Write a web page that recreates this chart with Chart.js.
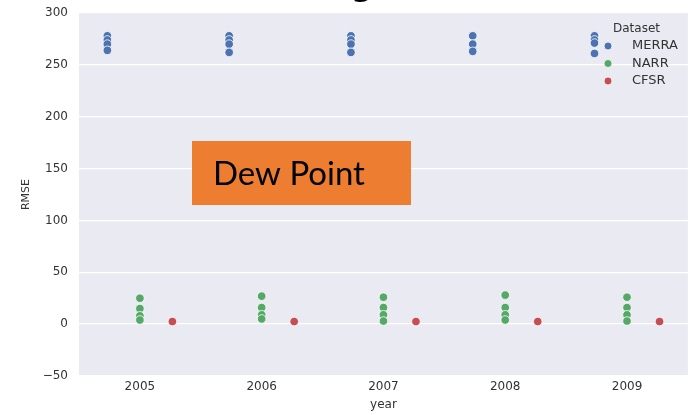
<!DOCTYPE html>
<html>
<head>
<meta charset="utf-8">
<script src="https://cdn.jsdelivr.net/npm/chart.js@4.4.1/dist/chart.umd.min.js"></script>
<style>
  html, body { margin: 0; padding: 0; background: #ffffff; }
  #wrap { width: 693px; height: 415px; }
</style>
</head>
<body>
<div id="wrap"><canvas id="c" width="693" height="415"></canvas></div>
<script>
// ---- data ----
const years = ['2005', '2006', '2007', '2008', '2009'];
const seriesNames = ['MERRA', 'NARR', 'CFSR'];
const merra = [[278, 274, 270, 264], [278, 274, 270, 262], [278, 274, 270, 262], [278, 270, 263], [278, 274, 271, 261]];
const narr  = [[25, 15, 8, 4], [27, 16, 9, 5], [26, 16, 9, 3], [28, 16, 9, 4], [26, 16, 9, 3]];
const cfsr  = [[2.5], [2.5], [2.5], [2.5], [2.5]];
const yTicks = [-50, 0, 50, 100, 150, 200, 250, 300];
const seriesColors = ['#4C72B0', '#55A868', '#C44E52'];
const dodge = [-0.267, 0, 0.267];

function toPoints(arr, k) {
  const pts = [];
  arr.forEach((vals, i) => vals.forEach(v => pts.push({ x: i + dodge[k], y: v })));
  return pts;
}

const datasets = [merra, narr, cfsr].map((arr, k) => ({
  label: seriesNames[k],
  data: toPoints(arr, k),
  backgroundColor: seriesColors[k],
  borderColor: '#ffffff',
  borderWidth: 0.8,
  pointRadius: 4.3,
  pointHoverRadius: 4.3
}));

const bgPlugin = {
  id: 'bg',
  beforeDraw(chart) {
    const { ctx, chartArea: a } = chart;
    ctx.save();
    ctx.fillStyle = '#ffffff';
    ctx.fillRect(0, 0, chart.width, chart.height);
    ctx.fillStyle = '#EAEAF2';
    ctx.fillRect(a.left, a.top, a.right - a.left, a.bottom - a.top);
    ctx.restore();
  }
};

const overlayPlugin = {
  id: 'overlay',
  afterDraw(chart) {
    const ctx = chart.ctx;
    ctx.save();
    // legend
    ctx.fillStyle = '#333333';
    ctx.font = '12px "DejaVu Sans"';
    ctx.textBaseline = 'middle';
    ctx.textAlign = 'left';
    ctx.fillText('Dataset', 613, 29);
    ctx.font = '13px "DejaVu Sans"';
    chart.data.datasets.forEach((ds, i) => {
      const y = 46 + i * 17.5;
      ctx.beginPath();
      ctx.arc(608, y, 4, 0, Math.PI * 2);
      ctx.fillStyle = ds.backgroundColor;
      ctx.fill();
      ctx.lineWidth = 0.8;
      ctx.strokeStyle = '#ffffff';
      ctx.stroke();
      ctx.fillStyle = '#333333';
      ctx.fillText(ds.label, 632, y);
    });
    // orange annotation box
    ctx.fillStyle = '#ED7D31';
    ctx.fillRect(192, 141, 219, 64);
    let size = 30;
    ctx.font = size + 'px Lato';
    const w = ctx.measureText('Dew Point').width;
    size = size * 152 / w;
    ctx.font = size + 'px Lato';
    ctx.fillStyle = '#000000';
    ctx.textBaseline = 'alphabetic';
    ctx.fillText('Dew Point', 213, 185);
    // fragment of a cut-off title above the canvas
    ctx.font = 'bold 30px "DejaVu Sans"';
    ctx.textAlign = 'center';
    ctx.fillText('g', 362, -4);
    ctx.restore();
  }
};

new Chart(document.getElementById('c'), {
  type: 'scatter',
  data: { datasets },
  options: {
    responsive: false,
    animation: false,
    events: [],
    layout: { padding: { top: 13, right: 3, left: 0, bottom: 0 } },
    plugins: { legend: { display: false }, tooltip: { enabled: false } },
    scales: {
      x: {
        type: 'linear',
        min: -0.5,
        max: 4.5,
        afterBuildTicks(scale) { scale.ticks = years.map((y, i) => ({ value: i })); },
        afterFit(scale) { scale.height = 39; scale.paddingLeft = 0; scale.paddingRight = 0; },
        ticks: {
          callback: (v) => years[v],
          color: '#333333',
          font: { family: '"DejaVu Sans"', size: 12 },
          padding: 4,
          maxRotation: 0,
          autoSkip: false
        },
        grid: { display: false, drawTicks: false },
        border: { display: false },
        title: {
          display: true,
          text: 'year',
          color: '#333333',
          font: { family: '"DejaVu Sans"', size: 12 },
          padding: { top: 0, bottom: 3 }
        }
      },
      y: {
        type: 'linear',
        min: -50,
        max: 300,
        afterBuildTicks(scale) { scale.ticks = yTicks.map(v => ({ value: v })); },
        afterFit(scale) { scale.width = 79; scale.paddingTop = 0; scale.paddingBottom = 0; },
        ticks: {
          callback: (v) => (v < 0 ? '\u2212' + Math.abs(v) : String(v)),
          color: '#333333',
          font: { family: '"DejaVu Sans"', size: 12 },
          padding: 11
        },
        grid: { color: '#ffffff', lineWidth: 1.3, drawTicks: false },
        border: { display: false },
        title: {
          display: true,
          text: 'RMSE',
          color: '#333333',
          font: { family: '"DejaVu Sans"', size: 11 },
          padding: { top: 20, bottom: 0 }
        }
      }
    }
  },
  plugins: [bgPlugin, overlayPlugin]
});
</script>
</body>
</html>
